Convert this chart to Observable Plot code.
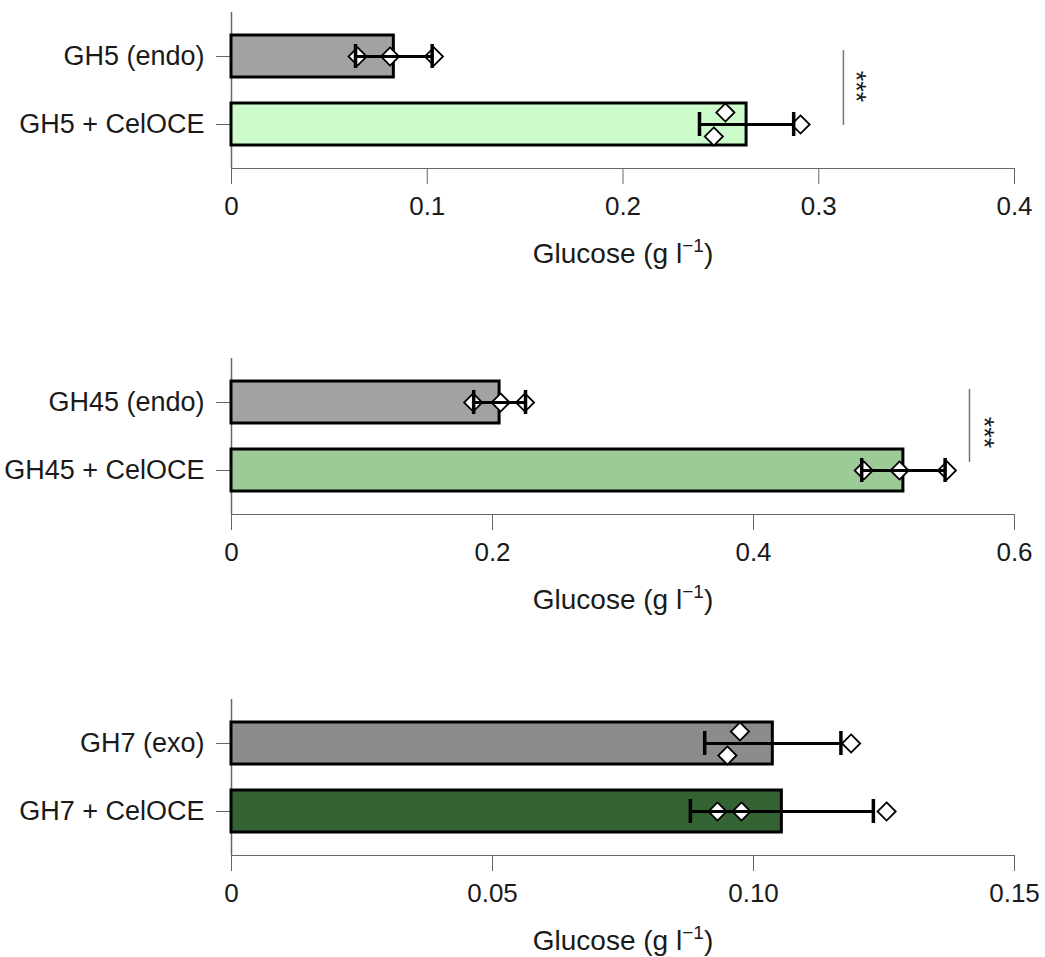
<!DOCTYPE html>
<html><head><meta charset="utf-8">
<script src="https://cdn.jsdelivr.net/npm/d3@7"></script>
<script src="https://cdn.jsdelivr.net/npm/@observablehq/plot@0.6"></script>
<style>
body{margin:0;background:#fff}
#chart svg{display:block}
#chart text{fill:#1a1a1a}
#chart [aria-label="y-axis tick label"]{font-size:27px}
#chart [aria-label="x-axis label"]{font-size:28px}
</style>
</head><body><div id="chart"></div>
<script>
// Panel 1
const gh5Categories = ["GH5 (endo)", "GH5 + CelOCE"];
const gh5Replicates = [[0.0644, 0.0810, 0.1034], [0.2523, 0.2464, 0.2907]];
const gh5Ticks = [0, 0.1, 0.2, 0.3, 0.4];
const gh5TickLabels = ["0", "0.1", "0.2", "0.3", "0.4"];
const gh5Significance = [{x: 0.3126, text: "***"}];
// Panel 2
const gh45Categories = ["GH45 (endo)", "GH45 + CelOCE"];
const gh45Replicates = [[0.1852, 0.2062, 0.2249], [0.4845, 0.5119, 0.5482]];
const gh45Ticks = [0, 0.2, 0.4, 0.6];
const gh45TickLabels = ["0", "0.2", "0.4", "0.6"];
const gh45Significance = [{x: 0.5655, text: "***"}];
// Panel 3
const gh7Categories = ["GH7 (exo)", "GH7 + CelOCE"];
const gh7Replicates = [[0.0974, 0.0950, 0.1187], [0.0931, 0.0977, 0.1255]];
const gh7Ticks = [0, 0.05, 0.10, 0.15];
const gh7TickLabels = ["0", "0.05", "0.10", "0.15"];
const gh7Significance = [];

const xLabel = "Glucose (g l-1)";

function panel({cats, reps, fills, ticks, tickLabels, sig, height, sigInsetTop, sigInsetBottom, starDx}) {
  const domain = [ticks[0], ticks[ticks.length - 1]];
  const rows = cats.map((c, i) => ({cat: c, mean: d3.mean(reps[i]), sd: d3.deviation(reps[i]), fill: fills[i]}));
  const pts = [];
  const thr = 0.019 * domain[1];
  reps.forEach((vals, i) => {
    const s = vals.map(v => ({cat: cats[i], v, lane: 0})).sort((a, b) => a.v - b.v);
    for (let k = 0; k < s.length - 1; k++) {
      if (s[k + 1].v - s[k].v < thr) { s[k].lane = 1; s[k + 1].lane = -1; k++; }
    }
    pts.push(...s);
  });
  const labelMap = new Map(ticks.map((t, i) => [t, tickLabels[i]]));
  const dotOpts = {x: "v", y: "cat", symbol: "diamond2", r: 8.2, fill: "white", stroke: "black", strokeWidth: 1.8};
  const svg = Plot.plot({
    width: 1045, height,
    marginLeft: 231, marginRight: 31, marginTop: 12, marginBottom: height - 168,
    style: {fontFamily: "'Liberation Sans', Arial, sans-serif", fontSize: "26px", color: "#666", background: "white"},
    x: {domain, ticks, tickFormat: d => labelMap.get(d), tickSize: 16, tickPadding: 12, line: true,
        label: xLabel, labelAnchor: "center", labelOffset: 94, labelArrow: false},
    y: {domain: cats, paddingInner: 0.382, paddingOuter: 0.338, tickSize: 15, tickPadding: 12, label: null},
    marks: [
      Plot.ruleX([domain[0]], {stroke: "#666", strokeWidth: 1.5}),
      Plot.barX(rows, {x: "mean", y: "cat", fill: "fill", stroke: "black", strokeWidth: 3}),
      Plot.dot(pts.filter(d => d.lane === 0), dotOpts),
      Plot.dot(pts.filter(d => d.lane === -1), {...dotOpts, dy: -12}),
      Plot.dot(pts.filter(d => d.lane === 1), {...dotOpts, dy: 12}),
      Plot.ruleY(rows, {y: "cat", x1: d => d.mean - d.sd, x2: d => d.mean + d.sd, stroke: "black", strokeWidth: 3}),
      Plot.tickX(rows, {y: "cat", x: d => d.mean - d.sd, stroke: "black", strokeWidth: 3.5, insetTop: 9, insetBottom: 9}),
      Plot.tickX(rows, {y: "cat", x: d => d.mean + d.sd, stroke: "black", strokeWidth: 3.5, insetTop: 9, insetBottom: 9}),
      Plot.ruleX(sig, {x: "x", y1: () => cats[0], y2: () => cats[1], stroke: "#777", strokeWidth: 1.5, insetTop: sigInsetTop, insetBottom: sigInsetBottom}),
      Plot.text(sig, {x: "x", text: "text", rotate: 90, dx: starDx, dy: -4, fontSize: 27, fill: "#1a1a1a"})
    ]
  });
  // superscript for the unit
  svg.querySelectorAll("text").forEach(t => {
    if (t.textContent === xLabel) {
      const target = t.querySelector("tspan") || t;
      target.textContent = "Glucose (g l";
      const ns = "http://www.w3.org/2000/svg";
      const sup = document.createElementNS(ns, "tspan");
      sup.setAttribute("dy", "-11"); sup.setAttribute("font-size", "19"); sup.textContent = "\u22121";
      const close = document.createElementNS(ns, "tspan");
      close.setAttribute("dy", "11"); close.textContent = ")";
      target.appendChild(sup); target.appendChild(close);
    }
  });
  return svg;
}

const chart = document.getElementById("chart");
chart.appendChild(panel({cats: gh5Categories, reps: gh5Replicates, fills: ["#a2a2a2", "#ccfccc"],
  ticks: gh5Ticks, tickLabels: gh5TickLabels, sig: gh5Significance, height: 346, sigInsetTop: 15, sigInsetBottom: 20, starDx: 12}));
chart.appendChild(panel({cats: gh45Categories, reps: gh45Replicates, fills: ["#a2a2a2", "#9ccb98"],
  ticks: gh45Ticks, tickLabels: gh45TickLabels, sig: gh45Significance, height: 341, sigInsetTop: 8, sigInsetBottom: 29, starDx: 14}));
chart.appendChild(panel({cats: gh7Categories, reps: gh7Replicates, fills: ["#8c8c8c", "#336233"],
  ticks: gh7Ticks, tickLabels: gh7TickLabels, sig: gh7Significance, height: 270, sigInsetTop: 0, sigInsetBottom: 0, starDx: 12}));
</script>
</body></html>
